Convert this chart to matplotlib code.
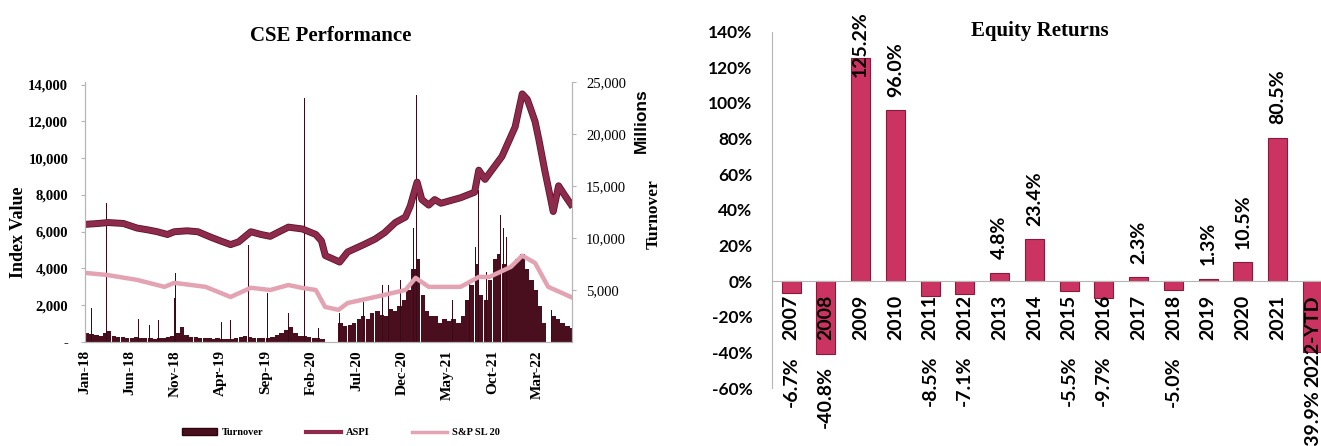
import numpy as np
import pandas as pd
import matplotlib
matplotlib.use("Agg")
import matplotlib.pyplot as plt
import matplotlib.patheffects as pe
from matplotlib.patches import Patch
from matplotlib.lines import Line2D

# ---- CSE index levels (ASPI and S&P SL20) ----
aspi_dates = ["2018-01-01", "2018-02-15", "2018-03-20", "2018-05-10", "2018-06-25", "2018-08-01",
              "2018-09-01", "2018-10-05", "2018-10-28", "2018-12-10", "2019-01-15", "2019-02-28",
              "2019-04-01", "2019-05-05", "2019-06-01", "2019-07-12", "2019-08-15", "2019-09-15",
              "2019-10-15", "2019-11-15", "2020-01-01", "2020-02-15", "2020-03-05", "2020-03-18",
              "2020-04-15", "2020-05-05", "2020-06-01", "2020-07-25", "2020-09-01", "2020-10-03",
              "2020-11-08", "2020-12-12", "2020-12-28", "2021-01-20", "2021-02-05", "2021-02-28",
              "2021-03-20", "2021-04-10", "2021-06-15", "2021-08-01", "2021-08-15", "2021-09-05",
              "2021-11-01", "2021-12-15", "2022-01-08", "2022-01-25", "2022-02-05", "2022-02-20",
              "2022-03-05", "2022-03-25", "2022-04-12", "2022-04-22", "2022-05-10", "2022-05-30",
              "2022-06-20"]
aspi_vals = [6400, 6450, 6500, 6450, 6200, 6100,
             6000, 5850, 6000, 6050, 6000, 5700,
             5500, 5300, 5450, 6000, 5850, 5750,
             6000, 6250, 6150, 5850, 5500, 4700,
             4500, 4350, 4900, 5300, 5600, 5950,
             6500, 6800, 7400, 8700, 7750, 7450,
             7750, 7550, 7850, 8150, 9350, 8850,
             10100, 11700, 13500, 13200, 12700, 12000,
             11000, 9300, 7900, 7100, 8500, 8000,
             7500]

sl20_dates = ["2018-01-01", "2018-03-15", "2018-06-25", "2018-09-25", "2018-10-28", "2019-02-10",
              "2019-05-05", "2019-07-12", "2019-09-15", "2019-11-15", "2020-01-01", "2020-02-15",
              "2020-03-17", "2020-05-01", "2020-06-01", "2020-09-01", "2020-12-12", "2021-01-15",
              "2021-02-28", "2021-06-15", "2021-08-15", "2021-09-20", "2021-12-01", "2022-01-08",
              "2022-02-20", "2022-04-05", "2022-05-10", "2022-06-20"]
sl20_vals = [3760, 3650, 3380, 3000, 3220, 3000,
             2450, 2950, 2830, 3100, 2940, 2830,
             1910, 1750, 2120, 2450, 2830, 3490,
             3000, 3000, 3540, 3540, 4090, 4700,
             4300, 3000, 2750, 2450]

# ---- Turnover (Rs. Millions), half-monthly levels ----
turnover_2018 = [900, 800, 700, 600, 900, 1100, 600, 500, 500, 400, 400, 500,
                 400, 350, 400, 300, 350, 400, 500, 600, 900, 1400, 700, 500]
turnover_2019 = [500, 400, 400, 350, 300, 400, 300, 300, 250, 400, 500, 600,
                 500, 400, 400, 350, 400, 500, 700, 900, 1200, 1400, 900, 600]
turnover_2020 = [600, 500, 400, 400, 300, 0, 0, 0, 1800, 1500, 1600, 1800,
                 2200, 2500, 2200, 2800, 3000, 2600, 2500, 3200, 3000, 3500, 4000, 5000]
turnover_2021 = [7000, 8000, 4500, 3000, 2500, 2500, 1800, 2200, 2000, 2200, 1800, 2500,
                 4000, 5500, 7500, 4500, 4000, 6000, 8000, 8500, 7500, 7000, 7500, 8000]
turnover_2022 = [8500, 7000, 6000, 5000, 3500, 1800, 0, 2500, 2200, 1800, 1500, 1300]

# single heavy trading days
spike_dates = ["2018-01-22", "2018-03-15", "2018-04-25", "2018-07-01", "2018-08-05", "2018-09-05",
               "2018-10-28", "2018-11-02", "2018-12-06", "2019-02-01", "2019-04-05", "2019-05-05",
               "2019-07-03", "2019-09-05", "2019-11-15", "2020-01-08", "2020-02-25", "2020-05-04",
               "2020-07-25", "2020-09-25", "2020-10-15", "2020-11-10", "2020-11-25", "2021-01-08",
               "2021-01-18", "2021-01-26", "2021-03-18", "2021-05-20", "2021-07-03", "2021-07-15",
               "2021-08-05", "2021-08-15", "2021-09-10", "2021-10-28", "2021-11-05", "2021-11-15",
               "2021-12-21", "2022-01-14", "2022-04-15", "2022-05-01"]
spike_vals = [3300, 13400, 2200, 2200, 1600, 2100,
              4200, 6600, 3400, 3300, 1900, 2100,
              9300, 4700, 2800, 23500, 1350, 2800,
              3850, 5500, 5500, 5600, 6000, 11000,
              23700, 9000, 7600, 4000, 6250, 5800,
              9100, 14600, 6700, 12200, 11000, 10100,
              15600, 18500, 3100, 2600]

# ---- Annual equity returns (%) ----
return_years = ["2007", "2008", "2009", "2010", "2011", "2012", "2013", "2014",
                "2015", "2016", "2017", "2018", "2019", "2020", "2021", "2022-YTD"]
return_vals = [-6.7, -40.8, 125.2, 96.0, -8.5, -7.1, 4.8, 23.4,
               -5.5, -9.7, 2.3, -5.0, 1.3, 10.5, 80.5, -39.9]

SERIF = "Liberation Serif"
SANS = "Lato"
MAROON = "#4a0f1f"
ASPI_COL = "#8e2a4c"
SL20_COL = "#e4a3b2"
BAR_COL = "#cb3462"

fig = plt.figure(figsize=(13.21, 4.46), dpi=100)

# ================= CSE Performance =================
ax_t = fig.add_axes([0.0643, 0.2332, 0.3687, 0.583])
ax_i = ax_t.twinx()

half_dates = pd.date_range("2018-01-01", "2022-06-30", freq="SMS")
turnover = turnover_2018 + turnover_2019 + turnover_2020 + turnover_2021 + turnover_2022
half_dates = half_dates[:len(turnover)]
ax_t.bar(half_dates, turnover, width=15, align="edge", color=MAROON, linewidth=0)
ax_t.bar(pd.to_datetime(spike_dates), spike_vals, width=2.5, color="#3a0a17", linewidth=0)

ax_i.plot(pd.to_datetime(aspi_dates), aspi_vals, color=ASPI_COL, lw=3.8,
          path_effects=[pe.Stroke(linewidth=5.0, foreground="#5e1430"), pe.Normal()])
ax_i.plot(pd.to_datetime(sl20_dates), sl20_vals, color=SL20_COL, lw=3.2)

ax_t.set_xlim(pd.Timestamp("2018-01-01"), pd.Timestamp("2022-06-24"))
ax_t.set_ylim(0, 25000)
ax_i.set_ylim(0, 14150)

# turnover scale on the right, index scale on the left
ax_t.yaxis.tick_right()
ax_i.yaxis.tick_left()
turn_ticks = [5000, 10000, 15000, 20000, 25000]
ax_t.set_yticks(turn_ticks)
ax_t.set_yticklabels([f"{v:,}" for v in turn_ticks], fontfamily=SERIF, fontsize=10.5)
idx_ticks = list(range(0, 14001, 2000))
ax_i.set_yticks(idx_ticks)
ax_i.set_yticklabels(["-"] + [f"{v:,}" for v in idx_ticks[1:]],
                     fontfamily=SERIF, fontsize=10.5, fontweight="bold")

xt = pd.date_range("2018-01-01", "2022-03-01", freq="5MS")
ax_t.set_xticks(xt)
ax_t.set_xticklabels([d.strftime("%b-%y") for d in xt], rotation=90,
                     fontfamily=SERIF, fontsize=11, fontweight="bold")

for a in (ax_t, ax_i):
    a.spines["top"].set_visible(False)
    for s in ("left", "right", "bottom"):
        a.spines[s].set_color("#b5b5b5")
        a.spines[s].set_linewidth(0.8)
    a.tick_params(length=3, color="#b5b5b5")
ax_i.tick_params(axis="y", pad=9)
ax_t.tick_params(axis="y", pad=7)
ax_t.tick_params(axis="x", length=0, pad=6)

fig.text(0.014, 0.48, "Index Value", rotation=90, ha="center", va="center",
         fontfamily=SERIF, fontsize=13, fontweight="bold")
fig.text(0.4855, 0.73, "Millions", rotation=90, ha="center", va="center",
         fontfamily="Liberation Sans", fontsize=12.5, fontweight="bold")
fig.text(0.4945, 0.52, "Turnover", rotation=90, ha="center", va="center",
         fontfamily=SERIF, fontsize=12.5, fontweight="bold")
fig.text(0.25, 0.92, "CSE Performance", ha="center", va="center",
         fontfamily=SERIF, fontsize=15, fontweight="bold")

handles = [Patch(facecolor=MAROON, edgecolor="#2a0510"),
           Line2D([], [], color=ASPI_COL, lw=3),
           Line2D([], [], color=SL20_COL, lw=2.5)]
fig.legend(handles, ["Turnover", "ASPI", "S&P SL 20"], loc="center",
           bbox_to_anchor=(0.258, 0.03), ncol=3, frameon=False,
           prop={"family": SERIF, "size": 7.5, "weight": "bold"},
           handlelength=3.4, handleheight=0.6, columnspacing=4.0, handletextpad=0.5)

# ================= Equity Returns =================
ax_r = fig.add_axes([0.5844, 0.130, 0.4235, 0.799])
pos = np.arange(len(return_vals))
ax_r.bar(pos, return_vals, width=0.55, color=BAR_COL, edgecolor="#8a1a3c", linewidth=0.8)
ax_r.set_xlim(-0.55, len(return_vals) - 0.45)
ax_r.set_ylim(-60, 140)
ax_r.set_yticks(range(-60, 141, 20))
ax_r.set_yticklabels([f"{v}%" for v in range(-60, 141, 20)],
                     fontfamily=SANS, fontsize=12.5, fontweight="bold")
ax_r.tick_params(axis="y", length=0, pad=14)

ax_r.spines["bottom"].set_position(("data", 0))
ax_r.spines["top"].set_visible(False)
ax_r.spines["right"].set_visible(False)
ax_r.spines["left"].set_color("#b5b5b5")
ax_r.spines["bottom"].set_color("#b5b5b5")
ax_r.set_xticks(pos)
ax_r.set_xticklabels(return_years, rotation=90, fontfamily=SANS, fontsize=14, fontweight="bold")
ax_r.tick_params(axis="x", length=0, pad=10)
for lbl in ax_r.get_xticklabels():
    lbl.set_verticalalignment("top")

# data labels: above positive bars (kept inside the plot area);
# for negative bars, below the bar end / the year label, never above -42%
fig.canvas.draw()
renderer = fig.canvas.get_renderer()
to_data = ax_r.transData.inverted()
year_lbls = ax_r.get_xticklabels()
floor_px = ax_r.transData.transform((0, -42))[1]
for i, v in enumerate(return_vals):
    if v >= 0:
        ax_r.text(i, min(v + 7.5, 114.5), f"{v:.1f}%", rotation=90, ha="center", va="bottom",
                  fontfamily=SANS, fontsize=14, fontweight="bold", clip_on=False)
    else:
        lbl_bottom = year_lbls[i].get_window_extent(renderer).y0 - 3
        bar_end = ax_r.transData.transform((i, v))[1] - 12
        y = to_data.transform((0, min(lbl_bottom, bar_end, floor_px)))[1]
        ax_r.text(i, y, f"{v:.1f}%", rotation=90, ha="center", va="top",
                  fontfamily=SANS, fontsize=14, fontweight="bold", clip_on=False)

fig.text(0.787, 0.93, "Equity Returns", ha="center", va="center",
         fontfamily=SERIF, fontsize=15, fontweight="bold")

fig.savefig("out.png", dpi=100)
